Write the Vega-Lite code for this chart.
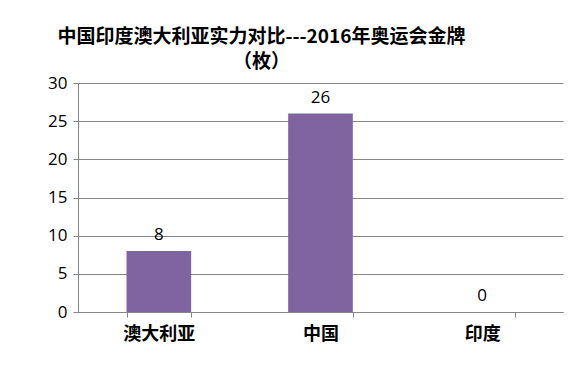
{
  "$schema": "https://vega.github.io/schema/vega-lite/v6.json",
  "width": 485,
  "height": 229,
  "autosize": "none",
  "padding": {"left": 78, "top": 83, "right": 22, "bottom": 60},
  "background": "white",
  "config": {
    "view": {"stroke": null},
    "font": "Noto Sans CJK SC"
  },
  "title": {
    "text": ["中国印度澳大利亚实力对比---2016年奥运会金牌", "（枚）"],
    "font": "Noto Sans CJK SC",
    "fontSize": 19,
    "fontWeight": "bold",
    "color": "#000000",
    "anchor": "middle",
    "frame": "group",
    "dx": -59,
    "lineHeight": 25,
    "offset": 2
  },
  "data": {
    "values": [
      {"country": "澳大利亚", "gold": 8},
      {"country": "中国", "gold": 26},
      {"country": "印度", "gold": 0}
    ]
  },
  "encoding": {
    "x": {
      "field": "country",
      "type": "nominal",
      "sort": null,
      "scale": {"paddingInner": 0.6, "paddingOuter": 0.3},
      "axis": {
        "title": null,
        "labelAngle": 0,
        "labelFont": "Noto Sans CJK SC",
        "labelFontSize": 18,
        "labelFontWeight": "bold",
        "labelColor": "#000000",
        "labelPadding": 8,
        "domainColor": "#868686",
        "tickColor": "#868686",
        "tickBand": "extent",
        "tickSize": 5,
        "grid": false
      }
    },
    "y": {
      "field": "gold",
      "type": "quantitative",
      "scale": {"domain": [0, 30]},
      "axis": {
        "title": null,
        "values": [0, 5, 10, 15, 20, 25, 30],
        "labelFont": "Open Sans",
        "labelFontSize": 17,
        "labelColor": "#000000",
        "labelPadding": 6,
        "domainColor": "#868686",
        "tickColor": "#868686",
        "tickSize": 5,
        "gridColor": "#868686",
        "gridWidth": 1
      }
    }
  },
  "layer": [
    {"mark": {"type": "bar", "color": "#8064A2"}},
    {
      "mark": {
        "type": "text",
        "baseline": "bottom",
        "dy": -7,
        "font": "Open Sans",
        "fontSize": 17,
        "color": "#000000"
      },
      "encoding": {"text": {"field": "gold", "type": "quantitative"}}
    }
  ]
}
